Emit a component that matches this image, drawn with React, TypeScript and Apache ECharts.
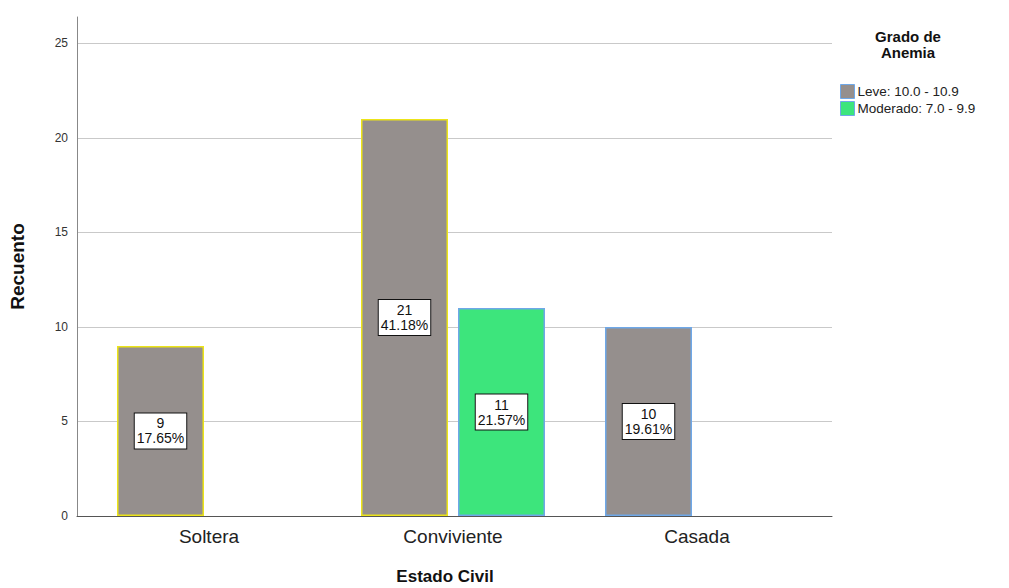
import React, { useEffect, useRef } from "react";
import * as echarts from "echarts";

const categories = ["Soltera", "Conviviente", "Casada"];
const seriesNames = ["Leve: 10.0 - 10.9", "Moderado: 7.0 - 9.9"];
const leveValues = [9, 21, 10];
const levePct = ["17.65%", "41.18%", "19.61%"];
const leveBorders = ["#ece41a", "#ece41a", "#6fa8e8"];
const moderadoValues: (number | null)[] = [null, 11, null];
const moderadoPct = ["", "21.57%", ""];
const moderadoBorders = ["#6fa8e8", "#6fa8e8", "#6fa8e8"];
const gridTicks = [5, 10, 15, 20, 25];

const FONT = "'Liberation Sans', Arial, sans-serif";
const Y_MAX = 26.4;

export default function App() {
  const ref = useRef<HTMLDivElement>(null);
  useEffect(() => {
    if (!ref.current) return;
    const chart = echarts.init(ref.current, undefined, { renderer: "svg" });
    const labelStyle = {
      show: true,
      position: "inside" as const,
      backgroundColor: "#ffffff",
      borderColor: "#111",
      borderWidth: 1,
      padding: [3, 2, 2, 2],
      color: "#111",
      fontFamily: FONT,
      fontSize: 14,
      lineHeight: 15,
      align: "center" as const,
    };
    chart.setOption({
      animation: false,
      textStyle: { fontFamily: FONT },
      grid: [
        { left: 77, top: 17, width: 755, height: 499, outerBoundsMode: "none", containLabel: false },
        { left: 87, top: 17, width: 732, height: 499, outerBoundsMode: "none", containLabel: false },
      ],
      xAxis: [
        {
          gridIndex: 0,
          type: "value",
          min: 0,
          max: 1,
          z: 10,
          axisLine: { show: true, lineStyle: { color: "#555", width: 1 } },
          axisTick: { show: false },
          axisLabel: { show: false },
          splitLine: { show: false },
        },
        {
          gridIndex: 1,
          type: "category",
          data: categories,
          axisLine: { show: false },
          axisTick: { show: false },
          axisLabel: { fontFamily: FONT, fontSize: 19, color: "#222", margin: 11 },
        },
      ],
      yAxis: [
        {
          gridIndex: 0,
          type: "value",
          min: 0,
          max: Y_MAX,
          interval: 5,
          axisLine: { show: true, lineStyle: { color: "#888", width: 1 } },
          axisTick: { show: false },
          splitLine: { show: false },
          axisLabel: {
            fontFamily: FONT,
            fontSize: 12,
            color: "#333",
            margin: 9,
            formatter: (v: number) => (v % 5 === 0 ? String(v) : ""),
          },
          name: "Recuento",
          nameLocation: "middle",
          nameRotate: 90,
          nameGap: 50,
          nameTextStyle: { fontFamily: FONT, fontSize: 19, fontWeight: "bold", color: "#111" },
        },
        {
          gridIndex: 1,
          type: "value",
          min: 0,
          max: Y_MAX,
          show: false,
        },
      ],
      legend: {
        data: seriesNames,
        orient: "vertical",
        left: 835,
        top: 79,
        itemWidth: 14,
        itemHeight: 14,
        itemGap: 2,
        icon: "rect",
        itemStyle: { borderColor: "#6fa8e8", borderWidth: 1 },
        textStyle: { fontFamily: FONT, fontSize: 13.5, color: "#222", padding: [0, 0, 0, -2] },
      },
      graphic: [
        {
          type: "text",
          x: 908,
          y: 28,
          style: {
            text: "Grado de\nAnemia",
            fontFamily: FONT,
            fontSize: 15,
            fontWeight: "bold",
            lineHeight: 16,
            fill: "#111",
            align: "center",
          },
        },
        {
          type: "text",
          x: 445,
          y: 568,
          style: {
            text: "Estado Civil",
            fontFamily: FONT,
            fontSize: 17,
            fontWeight: "bold",
            fill: "#111",
            align: "center",
          },
        },
      ],
      series: [
        {
          type: "line",
          xAxisIndex: 0,
          yAxisIndex: 0,
          data: [],
          silent: true,
          z: 0,
          markLine: {
            silent: true,
            z: 0,
            symbol: ["none", "none"],
            label: { show: false },
            lineStyle: { color: "#c9c9c9", width: 1, type: "solid" },
            data: gridTicks.map((t) => ({ yAxis: t })),
          },
        },
        {
          name: seriesNames[0],
          type: "bar",
          xAxisIndex: 1,
          yAxisIndex: 1,
          z: 3,
          barWidth: 87,
          barGap: "11.5%",
          itemStyle: { color: "#958f8d", borderColor: "#ece41a", borderWidth: 1.5 },
          data: leveValues.map((v, i) => ({
            value: v,
            itemStyle: { color: "#958f8d", borderColor: leveBorders[i], borderWidth: 1.5 },
          })),
          label: {
            ...labelStyle,
            formatter: (p: any) => `${leveValues[p.dataIndex]}\n${levePct[p.dataIndex]}`,
          },
        },
        {
          name: seriesNames[1],
          type: "bar",
          xAxisIndex: 1,
          yAxisIndex: 1,
          z: 3,
          barWidth: 87,
          itemStyle: { color: "#3de57c", borderColor: "#6fa8e8", borderWidth: 1.5 },
          data: moderadoValues.map((v, i) => ({
            value: v === null ? "-" : v,
            itemStyle: { color: "#3de57c", borderColor: moderadoBorders[i], borderWidth: 1.5 },
          })),
          label: {
            ...labelStyle,
            formatter: (p: any) => `${moderadoValues[p.dataIndex]}\n${moderadoPct[p.dataIndex]}`,
          },
        },
      ],
    });
    return () => chart.dispose();
  }, []);
  return (
    <div
      ref={ref}
      style={{ position: "absolute", left: 0, top: 0, width: 1009, height: 588, background: "#fff" }}
    />
  );
}
